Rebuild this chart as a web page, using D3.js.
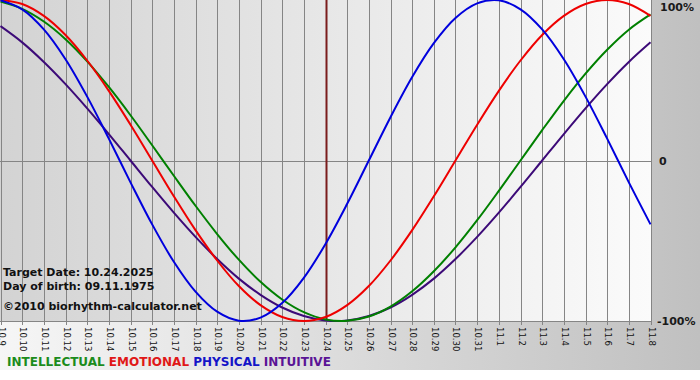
<!DOCTYPE html>
<html>
<head>
<meta charset="utf-8">
<script src="https://cdn.jsdelivr.net/npm/d3@7"></script>
<style>
  html, body { margin: 0; padding: 0; background: #fff; }
  svg { display: block; }
</style>
</head>
<body>
<div id="chart"></div>
<script>
// days shown on the x axis (10.9 .. 11.8)
const days = ['10.9', '10.10', '10.11', '10.12', '10.13', '10.14', '10.15', '10.16', '10.17', '10.18',
  '10.19', '10.20', '10.21', '10.22', '10.23', '10.24', '10.25', '10.26', '10.27', '10.28', '10.29',
  '10.30', '10.31', '11.1', '11.2', '11.3', '11.4', '11.5', '11.6', '11.7', '11.8']

// cycle values per day, -1 .. 1
const physical = [0.998, 0.942, 0.817, 0.631, 0.398, 0.136, -0.136, -0.398, -0.631, -0.817, -0.942,
  -0.998, -0.979, -0.888, -0.731, -0.520, -0.270, 0, 0.270, 0.520, 0.731, 0.888, 0.979, 0.998,
  0.942, 0.817, 0.631, 0.398, 0.136, -0.136, -0.398]
const emotional = [1, 0.975, 0.901, 0.782, 0.623, 0.434, 0.223, 0, -0.223, -0.434, -0.623, -0.782,
  -0.901, -0.975, -1, -0.975, -0.901, -0.782, -0.623, -0.434, -0.223, 0, 0.223, 0.434, 0.623,
  0.782, 0.901, 0.975, 1, 0.975, 0.901]
const intellectual = [0.990, 0.945, 0.866, 0.756, 0.618, 0.458, 0.282, 0.095, -0.095, -0.282,
  -0.458, -0.618, -0.756, -0.866, -0.945, -0.990, -0.999, -0.972, -0.910, -0.815, -0.690, -0.541,
  -0.372, -0.189, 0, 0.189, 0.372, 0.541, 0.690, 0.815, 0.910]
const intuitive = [0.837, 0.736, 0.614, 0.476, 0.325, 0.165, 0, -0.165, -0.325, -0.476, -0.614,
  -0.736, -0.837, -0.916, -0.969, -0.997, -0.997, -0.969, -0.916, -0.837, -0.736, -0.614, -0.476,
  -0.325, -0.165, 0, 0.165, 0.325, 0.476, 0.614, 0.736]

const yTicks = [1, 0, -1]
const yTickLabels = ['100%', '0', '-100%']

const targetDay = '10.24'
const infoLines = ['Target Date: 10.24.2025', 'Day of birth: 09.11.1975', '\u00a92010 biorhythm-calculator.net']

const series = [
  { name: 'INTELLECTUAL', values: intellectual, color: '#008000', text: '#1c8c1c' },
  { name: 'EMOTIONAL', values: emotional, color: '#ee0000', text: '#e01818' },
  { name: 'PHYSICAL', values: physical, color: '#0000dd', text: '#1414c8' },
  { name: 'INTUITIVE', values: intuitive, color: '#3c0a78', text: '#5a1496' },
]

const width = 700
const height = 380
const plot = { left: 0, right: 651, top: 0, bottom: 321 }

const svg = d3.select('#chart')
  .append('svg')
  .attr('width', width)
  .attr('height', height)

const defs = svg.append('defs')

const panelGrad = defs.append('linearGradient').attr('id', 'panel-grad')
panelGrad.append('stop').attr('offset', '0%').attr('stop-color', '#f6f6f6')
panelGrad.append('stop').attr('offset', '100%').attr('stop-color', '#c0c0c0')

const plotGrad = defs.append('linearGradient').attr('id', 'plot-grad')
plotGrad.append('stop').attr('offset', '0%').attr('stop-color', '#d3d3d3')
plotGrad.append('stop').attr('offset', '100%').attr('stop-color', '#fbfbfb')

svg.append('rect')
  .attr('width', width)
  .attr('height', 370)
  .attr('fill', 'url(#panel-grad)')

svg.append('rect')
  .attr('x', plot.left)
  .attr('y', plot.top)
  .attr('width', plot.right - plot.left)
  .attr('height', plot.bottom - plot.top)
  .attr('fill', 'url(#plot-grad)')

const x = d3.scaleLinear()
  .domain([0, days.length - 1])
  .range([plot.left + 0.5, plot.right - 0.5])

const y = d3.scaleLinear()
  .domain([-1, 1])
  .range([plot.bottom, plot.top])

// vertical day grid with ticks below the axis
svg.append('g')
  .selectAll('line')
  .data(days)
  .join('line')
  .attr('x1', (d, i) => Math.round(x(i)) + 0.5)
  .attr('x2', (d, i) => Math.round(x(i)) + 0.5)
  .attr('y1', plot.top)
  .attr('y2', plot.bottom + 4)
  .attr('stroke', '#858585')
  .attr('stroke-width', 1)

// zero line and bottom axis
svg.append('g')
  .selectAll('line')
  .data([0, -1])
  .join('line')
  .attr('x1', plot.left)
  .attr('x2', plot.right)
  .attr('y1', (d) => Math.round(y(d)) + 0.5)
  .attr('y2', (d) => Math.round(y(d)) + 0.5)
  .attr('stroke', '#858585')

// info text
svg.append('g')
  .selectAll('text')
  .data(infoLines)
  .join('text')
  .attr('x', 3)
  .attr('y', (d, i) => [276, 290, 310][i])
  .attr('font-family', 'DejaVu Sans, Verdana, sans-serif')
  .attr('font-size', '11px')
  .attr('font-weight', 'bold')
  .attr('fill', '#111')
  .text((d) => d)

// target day marker
const ti = days.indexOf(targetDay)
svg.append('line')
  .attr('x1', Math.round(x(ti)) + 0.5)
  .attr('x2', Math.round(x(ti)) + 0.5)
  .attr('y1', plot.top)
  .attr('y2', plot.bottom)
  .attr('stroke', '#7a1c1c')
  .attr('stroke-width', 2)

const line = d3.line()
  .x((d, i) => x(i))
  .y((d) => y(d))
  .curve(d3.curveCatmullRom.alpha(0.5))

// draw order: intuitive, intellectual, emotional, physical on top
svg.append('g')
  .selectAll('path')
  .data([series[3], series[0], series[1], series[2]])
  .join('path')
  .attr('d', (d) => line(d.values))
  .attr('fill', 'none')
  .attr('stroke', (d) => d.color)
  .attr('stroke-width', 2)

// day labels, rotated
svg.append('g')
  .selectAll('text')
  .data(days)
  .join('text')
  .attr('transform', (d, i) => `translate(${Math.round(x(i)) + 0.5},${plot.bottom + 6}) rotate(90)`)
  .attr('dy', '0.35em')
  .attr('font-family', 'DejaVu Sans, Verdana, sans-serif')
  .attr('font-size', '8.5px')
  .attr('fill', '#111')
  .text((d) => d)

// percent labels on the right
svg.append('g')
  .selectAll('text')
  .data(yTicks)
  .join('text')
  .attr('x', (d, i) => (i === 0 ? 660 : i === 1 ? 659 : 657))
  .attr('y', (d) => Math.max(y(d), 7))
  .attr('dy', '0.4em')
  .attr('font-family', 'DejaVu Sans, Verdana, sans-serif')
  .attr('font-size', '11px')
  .attr('font-weight', 'bold')
  .attr('fill', '#1a1a1a')
  .text((d, i) => yTickLabels[i])

// legend
const legend = svg.append('text')
  .attr('x', 7)
  .attr('y', 366)
  .attr('font-family', 'DejaVu Sans, Verdana, sans-serif')
  .attr('font-size', '12px')
  .attr('font-weight', 'bold')

legend.selectAll('tspan')
  .data(series)
  .join('tspan')
  .attr('fill', (d) => d.text)
  .text((d, i) => (i === 0 ? d.name : ' ' + d.name))
</script>
</body>
</html>
